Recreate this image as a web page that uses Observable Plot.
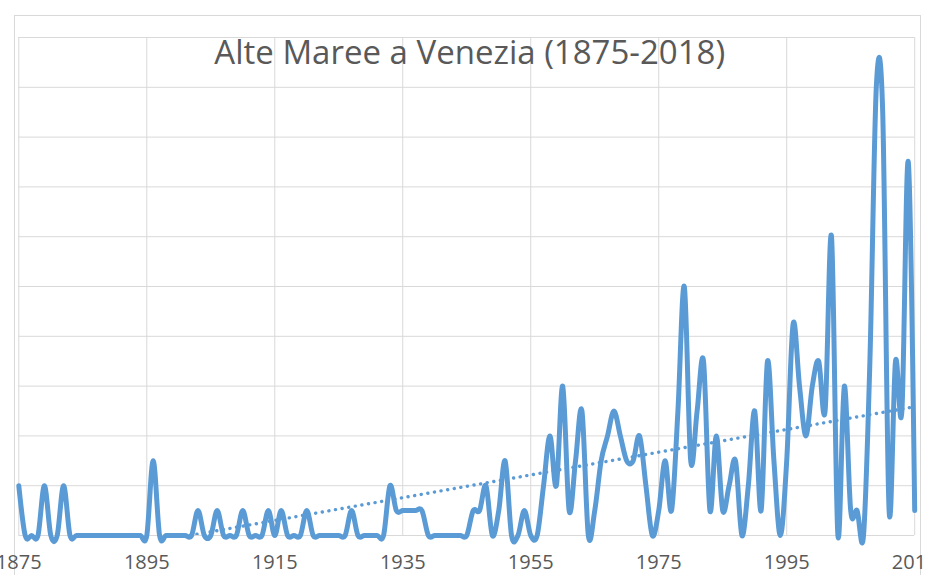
<!DOCTYPE html>
<html>
<head>
<meta charset="utf-8">
<script src="https://cdn.jsdelivr.net/npm/d3@7"></script>
<script src="https://cdn.jsdelivr.net/npm/@observablehq/plot@0.6"></script>
<style>
  html, body { margin: 0; padding: 0; background: #fff; }
  #wrap { position: relative; width: 925px; height: 575px; overflow: hidden; }
  #border { position: absolute; left: 14px; top: 15px; width: 907px; height: 620px; border: 1px solid #d9d9d9; box-sizing: border-box; }
  #chart { position: absolute; left: 0; top: 0; }
</style>
</head>
<body>
<div id="wrap"><div id="border"></div><div id="chart"></div></div>
<script>
// Number of high tides per year
const titleText = "Alte Maree a Venezia (1875-2018)";
const firstYear = 1875;
const tides_1875_1899 = [2,0,0,0,2, 0,0,2,0,0, 0,0,0,0,0, 0,0,0,0,0, 0,3,0,0,0];
const tides_1900_1924 = [0,0,0,1,0, 0,1,0,0,0, 1,0,0,0,1, 0,1,0,0,0, 1,0,0,0,0];
const tides_1925_1949 = [0,0,1,0,0, 0,0,0,2,1, 1,1,1,1,0, 0,0,0,0,0, 0,1,1,2,0];
const tides_1950_1974 = [1,3,0,0,1, 0,0,2,4,2, 6,1,3,5,0, 1,3,4,5,4, 3,3,4,2,0];
const tides_1975_1999 = [1,3,1,5,10, 3,5,7,1,4, 1,2,3,0,2, 5,1,7,3,0, 3,8.5,6,4,6];
const tides_2000_2015 = [7,5,12,0,6, 1,1,0,7,18, 17,1,7,5,15, 1];
const xTicks = [1875, 1895, 1915, 1935, 1955, 1975, 1995, 2015];
const yGrid = [0, 2, 4, 6, 8, 10, 12, 14, 16, 18, 20];

const allTides = [].concat(tides_1875_1899, tides_1900_1924, tides_1925_1949,
                           tides_1950_1974, tides_1975_1999, tides_2000_2015);
const data = allTides.map((v, i) => ({year: firstYear + i, tides: v}));

const blue = "#5b9bd5";
const grid = "#d9d9d9";

const chart = Plot.plot({
  width: 925,
  height: 575,
  marginLeft: 18.3,
  marginRight: 10.8,
  marginTop: 37,
  marginBottom: 40,
  style: {fontFamily: "'Open Sans', sans-serif", fontSize: "20px", color: "#595959", background: "transparent"},
  x: {domain: [1875, 2015], axis: null},
  y: {domain: [0, 20], axis: null},
  marks: [
    Plot.ruleY(yGrid, {stroke: grid, strokeWidth: 1, strokeOpacity: 1}),
    Plot.ruleX(xTicks, {stroke: grid, strokeWidth: 1, strokeOpacity: 1}),
    Plot.axisX(xTicks, {label: null, tickSize: 0, tickPadding: 19.5, tickFormat: d => String(d), fontSize: 20, fill: "#595959"}),
    Plot.text([titleText], {frameAnchor: "top", lineAnchor: "middle", dy: 16, dx: 3, fontSize: 33, fill: "#595959"}),
    Plot.linearRegressionY(data, {x: "year", y: "tides", ci: 0, stroke: blue, strokeWidth: 3.4, strokeDasharray: "0.1,6.6", strokeLinecap: "round", clip: true}),
    Plot.line(data, {x: "year", y: "tides", stroke: blue, strokeWidth: 5, curve: "cardinal", strokeLinejoin: "round"})
  ]
});
document.getElementById("chart").appendChild(chart);
</script>
</body>
</html>
